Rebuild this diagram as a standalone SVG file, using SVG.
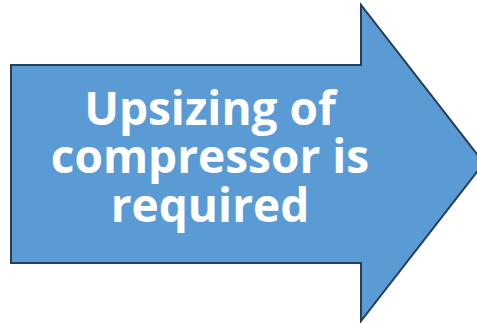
<svg xmlns="http://www.w3.org/2000/svg" width="477" height="323" viewBox="0 0 477 323">
<style>
.arrow{fill:#5B9BD5;stroke:#223F5E;stroke-width:2;stroke-linejoin:miter}
.lbl{font-family:"Open Sans","DejaVu Sans",sans-serif;font-weight:bold;font-size:46px;fill:#FFFFFF;text-anchor:middle}
</style>
<rect width="477" height="323" fill="#FFFFFF"/>
<g id="arrow-node">
<path class="arrow" d="M11,65 L361,65 L361,5 L484,163 L361,321 L361,263 L11,263 Z"/>
<text class="lbl"><tspan x="210" y="125">Upsizing of</tspan><tspan x="210" y="173">compressor is</tspan><tspan x="210" y="222">required</tspan></text>
</g>
<g id="connectors"></g>
</svg>
